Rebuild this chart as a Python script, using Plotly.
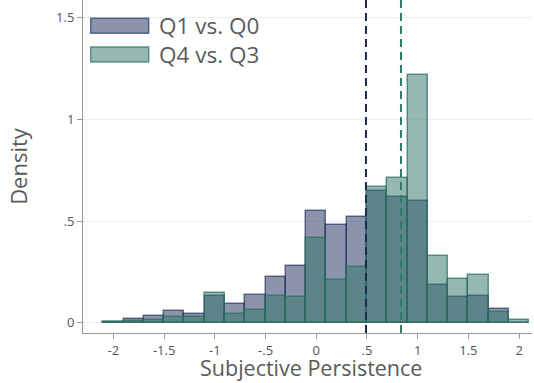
import plotly.graph_objects as go

# Data
bin_centers = [-2.0, -1.8, -1.6, -1.4, -1.2, -1.0, -0.8, -0.6, -0.4, -0.2, 0.0,
               0.2, 0.4, 0.6, 0.8, 1.0, 1.2, 1.4, 1.6, 1.8, 2.0]
q1_vs_q0 = [0.005, 0.018, 0.033, 0.056, 0.043, 0.131, 0.090, 0.134, 0.226, 0.279, 0.550,
            0.480, 0.520, 0.649, 0.618, 0.598, 0.185, 0.126, 0.131, 0.067, 0.0]
q4_vs_q3 = [0.005, 0.008, 0.015, 0.030, 0.030, 0.146, 0.044, 0.062, 0.133, 0.126, 0.417,
            0.211, 0.275, 0.669, 0.711, 1.221, 0.326, 0.215, 0.233, 0.053, 0.013]
series_names = ["Q1 vs. Q0", "Q4 vs. Q3"]
mean_lines = [0.49, 0.835]
x_tickvals = [-2, -1.5, -1, -0.5, 0, 0.5, 1, 1.5, 2]
x_ticktext = ["-2", "-1.5", "-1", "-.5", "0", ".5", "1", "1.5", "2"]
y_tickvals = [0, 0.5, 1, 1.5]
y_ticktext = ["0", ".5", "1", "1.5"]
x_title = "Subjective Persistence"
y_title = "Density"

fills = ["rgba(26,42,90,0.5)", "rgba(43,115,101,0.5)"]
edges = ["rgba(30,45,95,0.65)", "rgba(40,110,96,0.7)"]
vline_colors = ["#1c2a52", "#2e7a6c"]

W, H = 534, 383
ML, MR, MT, MB = 83, 2, 0, 50

fig = go.Figure()
for vals, name, fc, ec in zip([q1_vs_q0, q4_vs_q3], series_names, fills, edges):
    fig.add_trace(go.Bar(x=bin_centers, y=vals, width=0.2, name=name,
                         marker=dict(color=fc, line=dict(color=ec, width=1.5)),
                         showlegend=False))

for xv, c in zip(mean_lines, vline_colors):
    fig.add_shape(type="line", xref="x", yref="paper", x0=xv, x1=xv, y0=0, y1=1,
                  line=dict(color=c, width=2, dash="8px,5px"))

# Legend drawn manually (wide swatches)
pw = W - ML - MR
ph = H - MT - MB
def px_x(p):
    return (p - ML) / pw
def px_y(p):
    return (H - MB - p) / ph

legend_rows = [(18.3, 33.3), (47, 62)]
for (ya, yb), name, fc, ec in zip(legend_rows, series_names, fills, edges):
    fig.add_shape(type="rect", xref="paper", yref="paper",
                  x0=px_x(90.7), x1=px_x(148.7), y0=px_y(yb), y1=px_y(ya),
                  fillcolor=fc, line=dict(color=ec, width=1.5))
    fig.add_annotation(xref="paper", yref="paper", x=px_x(157), y=px_y((ya + yb) / 2),
                       text=name, showarrow=False, xanchor="left", yanchor="middle",
                       font=dict(family="Open Sans", size=22.5, color="#5a5a5a"))

# X axis title as annotation (placed close to the tick labels, as in the reference)
fig.add_annotation(xref="paper", yref="paper", x=px_x(311), y=px_y(383),
                   text=x_title, showarrow=False, xanchor="center", yanchor="bottom",
                   borderpad=0, font=dict(family="Open Sans", size=21.5, color="#5a5a5a"))

fig.update_layout(
    width=W, height=H,
    margin=dict(l=ML, r=MR, t=MT, b=MB),
    barmode="overlay", bargap=0,
    plot_bgcolor="white", paper_bgcolor="white",
    font=dict(family="Open Sans", color="#5a5a5a"),
    showlegend=False,
)
fig.update_xaxes(range=[-2.30, 2.127], tickvals=x_tickvals, ticktext=x_ticktext,
                 showgrid=False, zeroline=False, showline=True, linecolor="#999999",
                 linewidth=1, ticks="outside", ticklen=5, tickcolor="#999999",
                 tickfont=dict(size=13, color="#555555"))
fig.update_yaxes(range=[-0.051, 1.588], tickvals=y_tickvals, ticktext=y_ticktext,
                 showgrid=True, gridcolor="#eaf1f1", gridwidth=1, zeroline=False,
                 showline=True, linecolor="#999999", linewidth=1, ticks="outside",
                 ticklen=5, tickcolor="#999999",
                 tickfont=dict(size=13, color="#555555"),
                 title=dict(text=y_title, font=dict(size=22, color="#5a5a5a"), standoff=22))

fig.write_html("out.html")
